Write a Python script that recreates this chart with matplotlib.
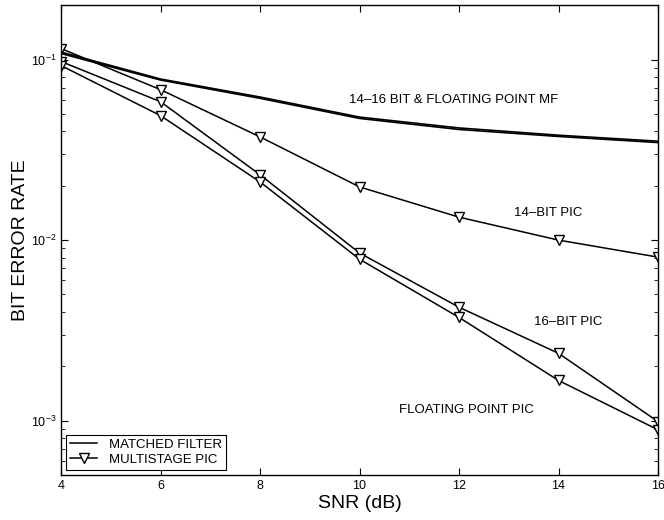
import numpy as np
import matplotlib.pyplot as plt
from matplotlib.lines import Line2D

plt.rcParams['font.family'] = ['Liberation Sans', 'DejaVu Sans']
plt.rcParams['mathtext.fontset'] = 'custom'
plt.rcParams['mathtext.rm'] = 'Liberation Sans'

snr = [4, 6, 8, 10, 12, 14, 16]

# matched filter curves (14-16 bit and floating point nearly overlap)
mf_14bit = [0.110, 0.0780, 0.0620, 0.0480, 0.0418, 0.0381, 0.0353]
mf_float = [0.108, 0.0770, 0.0610, 0.0472, 0.0410, 0.0375, 0.0347]

# multistage PIC curves
pic_14bit = [0.115, 0.0681, 0.0373, 0.0197, 0.0134, 0.0100, 0.00805]
pic_16bit = [0.0975, 0.0584, 0.0230, 0.00848, 0.00425, 0.00236, 0.000988]
pic_float = [0.0926, 0.0489, 0.0210, 0.00784, 0.00373, 0.00167, 0.00089]

fig = plt.figure(figsize=(6.64, 5.2), dpi=100)
ax = fig.add_axes([0.092, 0.0865, 0.899, 0.9035])

ax.semilogy(snr, mf_14bit, color='black', lw=1.2)
ax.semilogy(snr, mf_float, color='black', lw=1.2)
for vals in (pic_14bit, pic_16bit, pic_float):
    ax.semilogy(snr, vals, color='black', lw=1.1, marker='v', markersize=7,
                markerfacecolor='white', markeredgecolor='black', markeredgewidth=1.0)

ax.set_xlim(4, 16)
ax.set_ylim(5e-4, 0.2)
ax.set_xticks([4, 6, 8, 10, 12, 14, 16])
ax.tick_params(which='both', direction='in', top=True, right=True, labelsize=9)
ax.tick_params(which='major', length=5)
ax.tick_params(which='minor', length=3)
for s in ax.spines.values():
    s.set_linewidth(1.0)

ax.set_xlabel('SNR (dB)', fontsize=14, labelpad=2)
ax.set_ylabel('BIT ERROR RATE', fontsize=14, labelpad=1)

ax.text(9.79, 0.0599, '14\u201316 BIT & FLOATING POINT MF', fontsize=9.5, va='center', ha='left')
ax.text(13.8, 0.0141, '14\u2013BIT PIC', fontsize=9.5, va='center', ha='center')
ax.text(14.2, 0.0035, '16\u2013BIT PIC', fontsize=9.5, va='center', ha='center')
ax.text(12.15, 0.00114, 'FLOATING POINT PIC', fontsize=9.5, va='center', ha='center')

handles = [Line2D([], [], color='black', lw=1.1),
           Line2D([], [], color='black', lw=1.1, marker='v', markersize=7,
                  markerfacecolor='white', markeredgecolor='black')]
leg = ax.legend(handles, ['MATCHED FILTER', 'MULTISTAGE PIC'], loc='lower left',
                fontsize=9.5, fancybox=False, edgecolor='black', framealpha=1,
                borderaxespad=0.4, handlelength=2.0, handletextpad=0.9,
                borderpad=0.3, labelspacing=0.2)
leg.get_frame().set_linewidth(0.8)

plt.savefig('out.png', dpi=100)
